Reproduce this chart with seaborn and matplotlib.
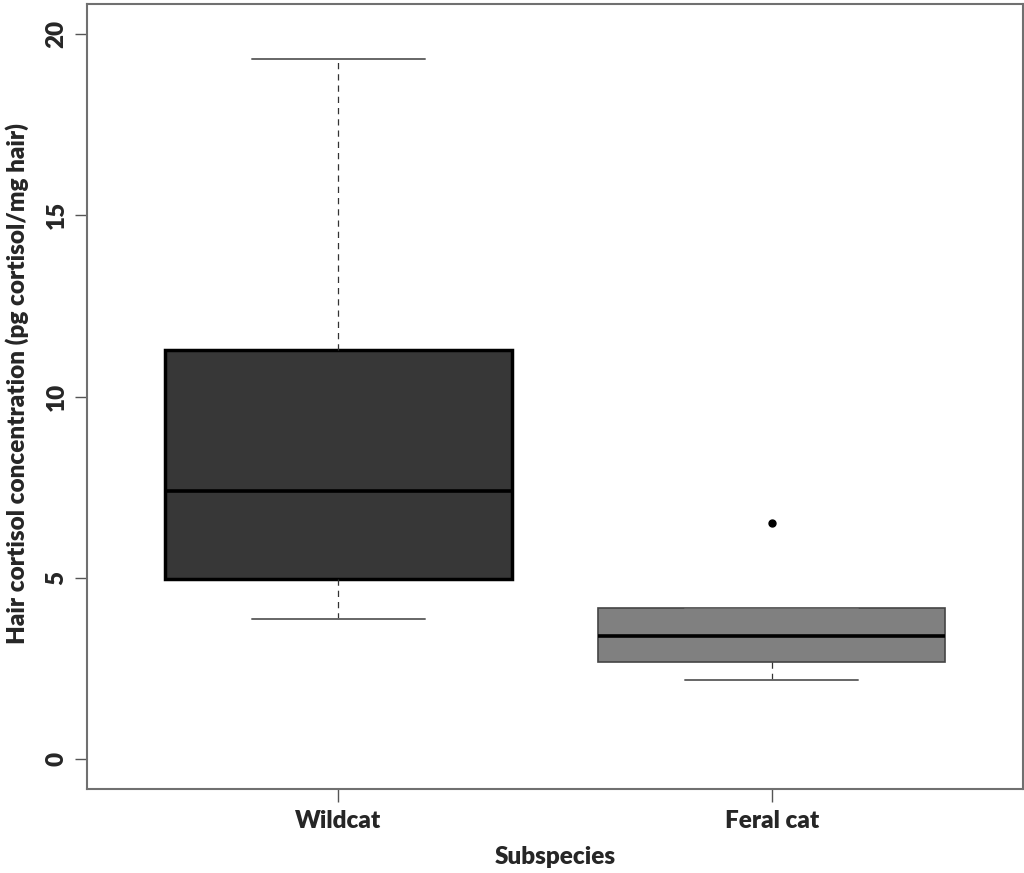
import matplotlib
matplotlib.use("Agg")
import matplotlib.pyplot as plt
import pandas as pd
import seaborn as sns

# hair cortisol values (pg cortisol / mg hair)
wildcat = [3.86, 4.3, 4.96, 6.1, 7.38, 9.0, 11.27, 14.5, 19.3]
feral_cat = [2.18, 2.67, 3.39, 4.16, 6.5]
groups = ["Wildcat", "Feral cat"]
fills = {"Wildcat": "#373737", "Feral cat": "#808080"}
yticks = [0, 5, 10, 15, 20]

data = pd.DataFrame(
    {
        "subspecies": ["Wildcat"] * len(wildcat) + ["Feral cat"] * len(feral_cat),
        "cortisol": wildcat + feral_cat,
    }
)

sns.set_theme(style="white")
plt.rcParams["font.family"] = ["Lato", "DejaVu Sans"]
plt.rcParams["font.weight"] = "heavy"

fig = plt.figure(figsize=(10.24, 8.73), dpi=100)
ax = fig.add_axes([0.085, 0.0962, 0.914, 0.8992])

sns.boxplot(
    data=data,
    x="subspecies",
    y="cortisol",
    hue="subspecies",
    order=groups,
    hue_order=groups,
    palette=fills,
    legend=False,
    width=0.8,
    whis=1.5,
    linecolor="black",
    linewidth=2.5,
    saturation=1,
    whiskerprops=dict(color="#333333", linewidth=0.9, linestyle=(0, (5, 4))),
    capprops=dict(color="#666666", linewidth=1.4),
    medianprops=dict(color="black", linewidth=2.6),
    flierprops=dict(marker="o", markerfacecolor="black", markeredgecolor="black", markersize=5),
    ax=ax,
)

# the feral cat box has a thinner grey outline
for patch in ax.patches:
    if patch.get_facecolor()[0] > 0.4:
        patch.set_edgecolor("#444444")
        patch.set_linewidth(1.2)

ax.set_xlim(0.42 - 1, 2.58 - 1)
ax.set_ylim(-0.83, 20.83)
ax.set_yticks(yticks)
ax.set_yticklabels([str(t) for t in yticks], rotation=90, va="center")
ax.tick_params(axis="both", which="both", direction="out", length=9, width=1,
               color="#555555", labelsize=17.5, left=True, bottom=True)
ax.tick_params(axis="y", pad=5)
ax.tick_params(axis="x", pad=6)
for lab in ax.get_xticklabels() + ax.get_yticklabels():
    lab.set_fontweight("heavy")
for side in ["left", "right", "top", "bottom"]:
    ax.spines[side].set_visible(True)
    ax.spines[side].set_color("#707070")
    ax.spines[side].set_linewidth(1.5)

ax.set_xlabel("Subspecies", fontsize=17.5, fontweight="heavy", labelpad=10)
ax.set_ylabel("Hair cortisol concentration (pg cortisol/mg hair)", fontsize=17.5,
              fontweight="heavy")
ax.yaxis.set_label_coords(-0.062, 0.517)

fig.savefig("out.png", dpi=100)
